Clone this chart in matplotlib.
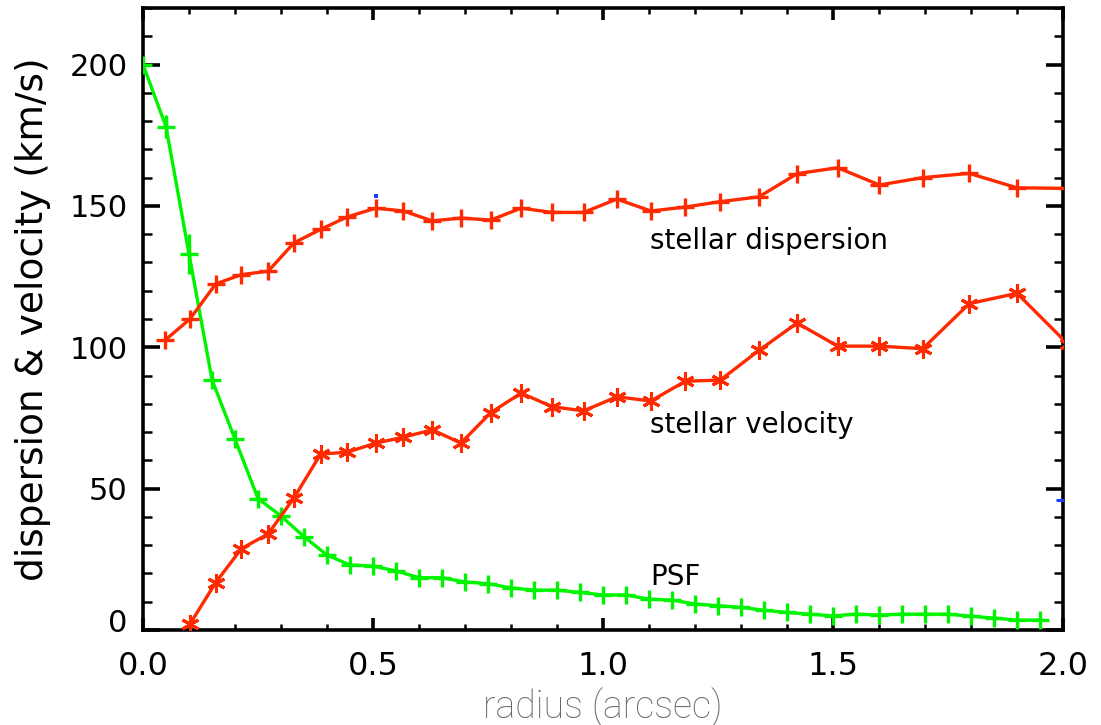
import numpy as np
import matplotlib
matplotlib.use("Agg")
import matplotlib.pyplot as plt
from matplotlib.ticker import MultipleLocator
from matplotlib.transforms import ScaledTranslation

# PSF profile, sampled every 0.05"
psf_r = [0.00, 0.05, 0.10, 0.15, 0.20, 0.25, 0.30, 0.35, 0.40, 0.45,
         0.50, 0.55, 0.60, 0.65, 0.70, 0.75, 0.80, 0.85, 0.90, 0.95,
         1.00, 1.05, 1.10, 1.15, 1.20, 1.25, 1.30, 1.35, 1.40, 1.45,
         1.50, 1.55, 1.60, 1.65, 1.70, 1.75, 1.80, 1.85, 1.90, 1.95]
psf = [200.0, 178.0, 133.0, 88.5, 67.5, 46.5, 40.3, 33.0, 26.5, 23.0,
       22.6, 20.9, 18.5, 18.5, 17.0, 16.4, 14.9, 14.1, 14.1, 13.3,
       12.4, 12.4, 10.9, 10.6, 9.2, 8.6, 8.0, 7.0, 6.2, 5.6,
       5.0, 5.6, 5.3, 5.6, 5.6, 5.6, 4.9, 4.2, 3.5, 3.5]
psf_err = [0, 4, 7] + [0] * 37

# stellar kinematics bins
star_r = [0.048, 0.102, 0.158, 0.214, 0.272, 0.328, 0.386, 0.444, 0.506, 0.566,
          0.629, 0.691, 0.756, 0.822, 0.889, 0.958, 1.030, 1.104, 1.179, 1.255,
          1.339, 1.422, 1.510, 1.601, 1.695, 1.796, 1.900, 2.010]
sigma = [102.5, 110.0, 122.4, 125.7, 126.9, 136.9, 141.7, 146.1, 149.2, 148.2,
         144.7, 145.7, 145.0, 149.2, 147.7, 147.7, 152.4, 148.2, 149.6, 151.5,
         153.2, 161.4, 163.5, 157.4, 160.0, 161.5, 156.4, 156.2]
vel = [np.nan, 2.1, 16.8, 28.8, 34.0, 46.7, 62.2, 62.9, 66.1, 68.2,
       70.8, 66.1, 76.9, 83.8, 79.0, 77.5, 82.5, 81.0, 88.0, 88.4,
       98.9, 108.6, 100.4, 100.4, 99.5, 115.4, 119.1, 101.2]

# stray blue marks
blue_r = [0.506, 2.0]
blue_v = [153.5, 46.0]

red = "#ff2a00"
green = "#00f400"

fig = plt.figure(figsize=(11.01, 7.25), dpi=100)
ax = fig.add_axes([0.1299, 0.131, 0.8356, 0.858])

ax.errorbar(psf_r, psf, yerr=psf_err, color=green, lw=2.4, marker="+",
            ms=13, mew=2.4, elinewidth=2.4, capsize=0, zorder=3)
ax.plot(star_r, sigma, color=red, lw=2.4, marker="+", ms=13, mew=2.4, zorder=4)
ax.plot(star_r, vel, color=red, lw=2.4, marker=(6, 2, 0), ms=13, mew=2.2, zorder=4)
ax.plot(blue_r[:1], blue_v[:1], ls="none", marker="s", ms=2.2, color="#1a3cff",
        mew=0, zorder=5)
ax.plot(blue_r[1:], blue_v[1:], ls="none", marker="_", ms=10, mew=2.2,
        color="#1a3cff", zorder=5)

ax.text(1.102, 137.7, "stellar dispersion", fontsize=20, va="center", ha="left")
ax.text(1.102, 72.5, "stellar velocity", fontsize=20, va="center", ha="left")
ax.text(1.102, 18.7, "PSF", fontsize=20, va="center", ha="left")

ax.set_xlim(0, 2.0)
ax.set_ylim(0, 220)
ax.xaxis.set_major_locator(MultipleLocator(0.5))
ax.xaxis.set_minor_locator(MultipleLocator(0.1))
ax.yaxis.set_major_locator(MultipleLocator(50))
ax.yaxis.set_minor_locator(MultipleLocator(10))
ax.xaxis.set_major_formatter(plt.FuncFormatter(lambda v, p: "%.1f" % v))

for s in ax.spines.values():
    s.set_linewidth(2.6)
ax.tick_params(axis="both", which="both", direction="in", top=True, right=True,
               color="black")
ax.tick_params(axis="x", which="major", length=8.5, width=2.6, pad=15, labelsize=23)
ax.tick_params(axis="x", which="minor", length=4.5, width=1.8)
ax.tick_params(axis="y", which="major", length=12, width=2.6, pad=11, labelsize=22)
ax.tick_params(axis="y", which="minor", length=6.5, width=1.8)

# lift the zero label off the bottom spine
for lab in ax.get_yticklabels():
    if lab.get_text() == "0":
        lab.set_transform(lab.get_transform() +
                          ScaledTranslation(0, 0.10, fig.dpi_scale_trans))

ax.set_ylabel("dispersion & velocity (km/s)", fontsize=27, va="center")
ax.yaxis.set_label_coords(-0.1196, 0.5)
ax.set_xlabel("radius (arcsec)", fontsize=27, color="#666666",
              family="Roboto", fontweight="light", va="center")
ax.xaxis.set_label_coords(0.5, -0.124)

fig.savefig("out.png", dpi=100)
